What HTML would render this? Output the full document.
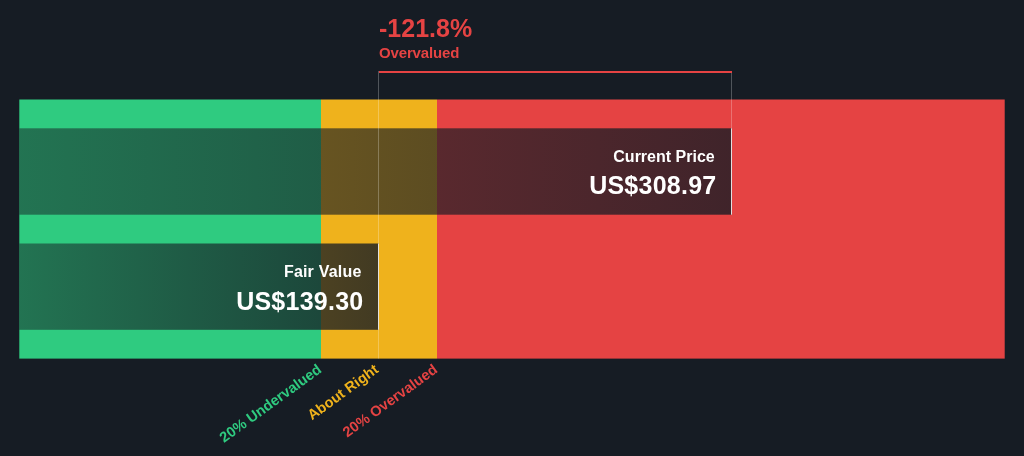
<!DOCTYPE html>
<html><head><meta charset="utf-8">
<style>
html,body{margin:0;padding:0;background:#161c24;width:1024px;height:456px;overflow:hidden}
svg{display:block;will-change:transform}
text{font-family:"Liberation Sans",sans-serif;font-weight:bold}
</style></head><body>
<svg width="1024" height="456" viewBox="0 0 1024 456">
<defs>
<linearGradient id="g1" x1="0" y1="0" x2="1" y2="0">
<stop offset="0" stop-color="#161c24" stop-opacity="0.5"/>
<stop offset="1" stop-color="#161c24" stop-opacity="0.8"/>
</linearGradient>
<linearGradient id="zones" gradientUnits="userSpaceOnUse" x1="0" y1="0" x2="1024" y2="0">
<stop offset="0" stop-color="#2fcb80"/>
<stop offset="0.31367" stop-color="#2fcb80"/>
<stop offset="0.31367" stop-color="#efb21c"/>
<stop offset="0.42676" stop-color="#efb21c"/>
<stop offset="0.42676" stop-color="#e54343"/>
<stop offset="1" stop-color="#e54343"/>
</linearGradient>
</defs>
<rect x="0" y="0" width="1024" height="456" fill="#161c24"/>
<rect x="19.3" y="99.5" width="985.4" height="259.1" fill="url(#zones)"/>
<!-- current price bar -->
<rect x="19.3" y="128.3" width="712.7" height="86.4" fill="url(#g1)"/>
<rect x="731" y="128.3" width="1" height="86.4" fill="#fff" fill-opacity="0.85"/>
<!-- fair value bar -->
<rect x="19.3" y="243.5" width="359.7" height="86.3" fill="url(#g1)"/>
<rect x="378" y="243.5" width="1" height="86.3" fill="#fff" fill-opacity="0.85"/>
<!-- translucent lines -->
<rect x="378" y="71" width="1" height="172.5" fill="#fff" fill-opacity="0.25"/>
<rect x="378" y="329.8" width="1" height="28.8" fill="#fff" fill-opacity="0.25"/>
<rect x="731" y="73" width="1" height="55.3" fill="#fff" fill-opacity="0.25"/>
<rect x="379" y="71" width="353" height="2" fill="#e54343"/>
<!-- texts -->
<text x="379" y="37" font-size="25" fill="#e54343">-121.8%</text>
<text x="379" y="58.3" font-size="15" fill="#e54343" letter-spacing="-0.15">Overvalued</text>
<text x="714.7" y="162" font-size="16" fill="#fff" text-anchor="end">Current Price</text>
<text x="716.5" y="194.3" font-size="25" fill="#fff" text-anchor="end" letter-spacing="0.25">US$308.97</text>
<text x="361.5" y="277" font-size="16" fill="#fff" text-anchor="end" letter-spacing="0.2">Fair Value</text>
<text x="363.5" y="309.5" font-size="25" fill="#fff" text-anchor="end" letter-spacing="0.25">US$139.30</text>
<text transform="translate(322.5,371.5) rotate(-36)" font-size="14.6" fill="#2fcb80" text-anchor="end">20% Undervalued</text>
<text transform="translate(379.5,371.5) rotate(-36)" font-size="14.6" fill="#efb21c" text-anchor="end">About Right</text>
<text transform="translate(438.5,371.5) rotate(-36)" font-size="14.6" fill="#e54343" text-anchor="end">20% Overvalued</text>
</svg>
</body></html>
